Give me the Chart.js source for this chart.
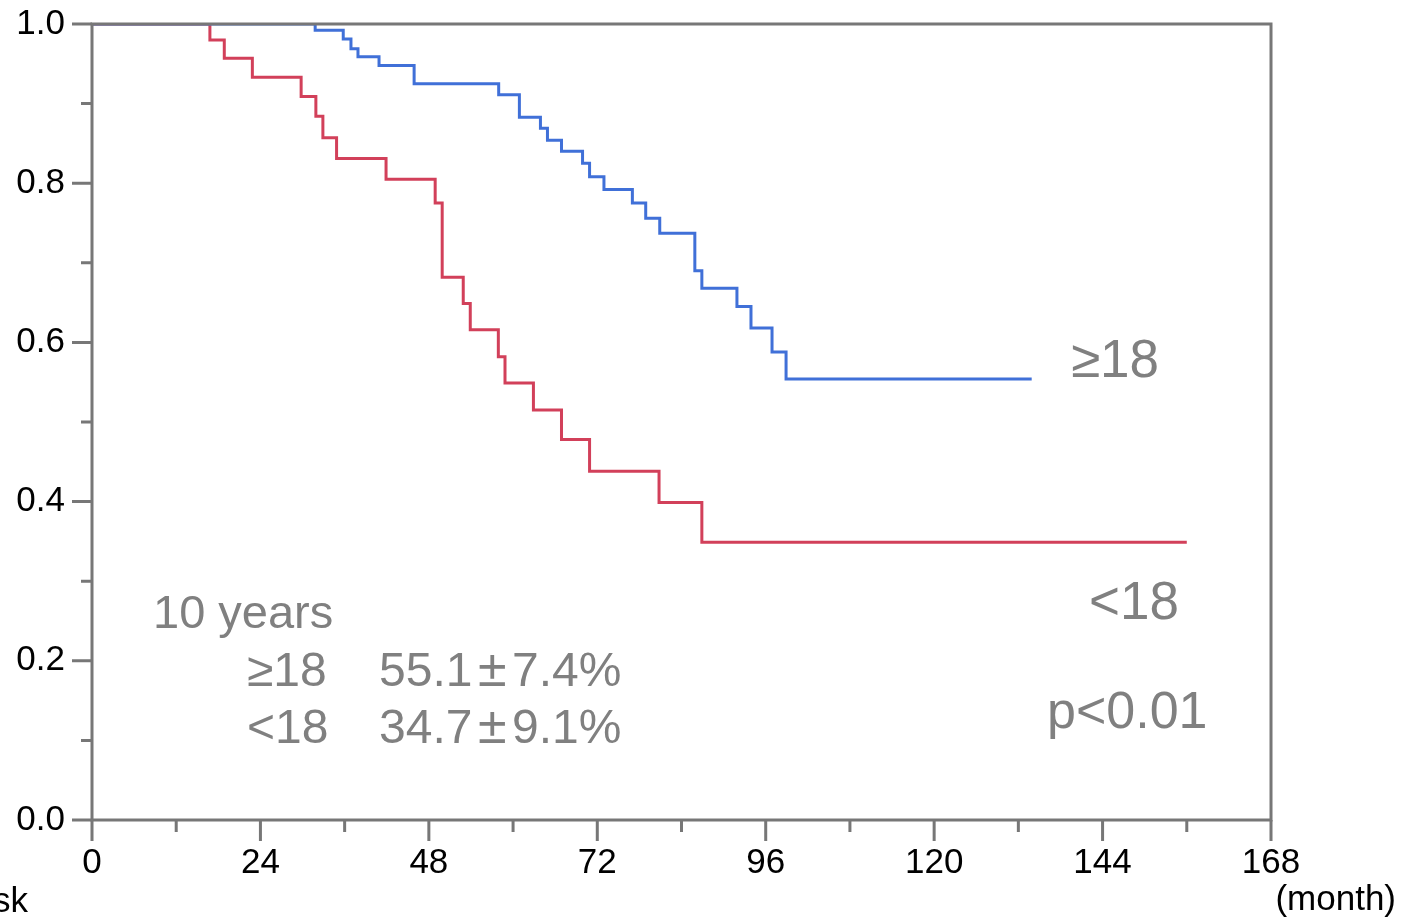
<!DOCTYPE html>
<html>
<head>
<meta charset="utf-8">
<script src="https://cdn.jsdelivr.net/npm/chart.js@4/dist/chart.umd.min.js"></script>
<style>
  html, body { margin: 0; padding: 0; background: #fff; }
  #wrap { width: 1402px; height: 921px; position: relative; }
</style>
</head>
<body>
<div id="wrap"><canvas id="km" width="1402" height="921"></canvas></div>
<script>
// ---- data ----
var blueMonths = [0, 31.8, 35.8, 36.9, 37.9, 40.9, 45.9, 57.95, 60.9, 63.9, 64.9, 66.9, 69.9, 70.9, 72.95, 77.0, 78.9, 80.9, 85.9, 86.9, 91.9, 93.9, 96.9, 98.9, 133.9];
var blueSurv   = [1.0, 0.992, 0.981, 0.969, 0.959, 0.948, 0.925, 0.911, 0.883, 0.869, 0.854, 0.840, 0.825, 0.808, 0.792, 0.775, 0.756, 0.737, 0.690, 0.668, 0.645, 0.618, 0.588, 0.554, 0.554];

var redMonths = [0, 16.8, 18.85, 22.85, 29.8, 31.9, 32.9, 34.85, 41.9, 48.9, 49.9, 52.9, 53.9, 57.9, 58.85, 62.9, 66.9, 70.9, 80.8, 86.9, 156.0];
var redSurv   = [1.0, 0.980, 0.957, 0.933, 0.909, 0.884, 0.857, 0.831, 0.805, 0.775, 0.682, 0.649, 0.616, 0.582, 0.549, 0.515, 0.478, 0.438, 0.399, 0.349, 0.349];

var xMax = 168;
var xMajor = 24, xMinor = 12;
var yMajor = 0.2, yMinor = 0.1;

var AXIS = '#777777';
var GREY_TXT = '#808080';
var FONT = '"Liberation Sans", Arial, sans-serif';

function toPoints(xs, ys) {
  return xs.map(function(x, i) { return { x: x, y: ys[i] }; });
}

// value with a wide plus-minus sign, drawn in three pieces
function pmText(ctx, a, b, x, y) {
  ctx.font = '48px ' + FONT;
  ctx.fillText(a, x, y);
  ctx.font = '52px ' + FONT;
  ctx.fillText('\u00b1', x + 99, y);
  ctx.font = '48px ' + FONT;
  ctx.fillText(b, x + 133, y);
}

// frame, tick marks and annotation text
var framePlugin = {
  id: 'frame',
  afterDatasetsDraw: function(chart) {
    var ctx = chart.ctx, a = chart.chartArea;
    var xs = chart.scales.x, ys = chart.scales.y;
    ctx.save();
    ctx.strokeStyle = AXIS;
    ctx.lineWidth = 3;
    ctx.strokeRect(a.left, a.top, a.right - a.left, a.bottom - a.top);
    ctx.beginPath();
    for (var m = 0; m <= xMax + 0.001; m += xMinor) {
      var px = xs.getPixelForValue(m);
      var len = (m % xMajor === 0) ? 21 : 12;
      ctx.moveTo(px, a.bottom); ctx.lineTo(px, a.bottom + len);
    }
    for (var k = 0; k <= 10; k++) {
      var py = ys.getPixelForValue(k * yMinor);
      var ln = (k % 2 === 0) ? 20 : 11;
      ctx.moveTo(a.left, py); ctx.lineTo(a.left - ln, py);
    }
    ctx.stroke();

    // annotation text
    ctx.fillStyle = GREY_TXT;
    ctx.textBaseline = 'alphabetic';
    ctx.textAlign = 'left';
    ctx.font = '47px ' + FONT;
    ctx.fillText('10 years', 153, 628);
    ctx.font = '48px ' + FONT;
    ctx.fillText('\u226518', 247, 686);
    ctx.fillText('<18', 247, 743);
    pmText(ctx, '55.1', '7.4%', 379, 686);
    pmText(ctx, '34.7', '9.1%', 379, 743);
    ctx.font = '53px ' + FONT;
    ctx.fillText('\u226518', 1071, 377);
    ctx.fillText('<18', 1089, 619);
    ctx.font = '52px ' + FONT;
    ctx.fillText('p<0.01', 1047, 728);

    ctx.fillStyle = '#000';
    ctx.font = '35px ' + FONT;
    ctx.textAlign = 'right';
    ctx.fillText('at risk', 28, 912);
    ctx.fillText('(month)', 1396, 910);
    ctx.restore();
  }
};

new Chart(document.getElementById('km'), {
  type: 'line',
  data: {
    datasets: [
      {
        label: '>=18',
        data: toPoints(blueMonths, blueSurv),
        borderColor: 'rgb(64,112,216)',
        borderWidth: 3,
        stepped: 'before',
        pointRadius: 0,
        fill: false
      },
      {
        label: '<18',
        data: toPoints(redMonths, redSurv),
        borderColor: 'rgb(210,64,90)',
        borderWidth: 3,
        stepped: 'before',
        pointRadius: 0,
        fill: false
      }
    ]
  },
  options: {
    responsive: false,
    animation: false,
    devicePixelRatio: 1,
    layout: { padding: { left: 0, right: 131, top: 24, bottom: 0 } },
    plugins: { legend: { display: false }, tooltip: { enabled: false } },
    scales: {
      x: {
        type: 'linear',
        min: 0, max: xMax,
        afterFit: function(s) { s.height = 101; s.paddingLeft = 0; s.paddingRight = 0; },
        grid: { display: false, drawTicks: false },
        border: { display: false },
        ticks: {
          stepSize: xMajor,
          padding: 22,
          color: '#000',
          font: { family: FONT, size: 35 },
          maxRotation: 0,
          autoSkip: false
        }
      },
      y: {
        type: 'linear',
        min: 0, max: 1,
        afterFit: function(s) { s.width = 92; s.paddingTop = 0; s.paddingBottom = 0; },
        grid: { display: false, drawTicks: false },
        border: { display: false },
        ticks: {
          stepSize: yMajor,
          padding: 27,
          color: '#000',
          font: { family: FONT, size: 35 },
          callback: function(v) { return Number(v).toFixed(1); }
        }
      }
    }
  },
  plugins: [framePlugin]
});
</script>
</body>
</html>
